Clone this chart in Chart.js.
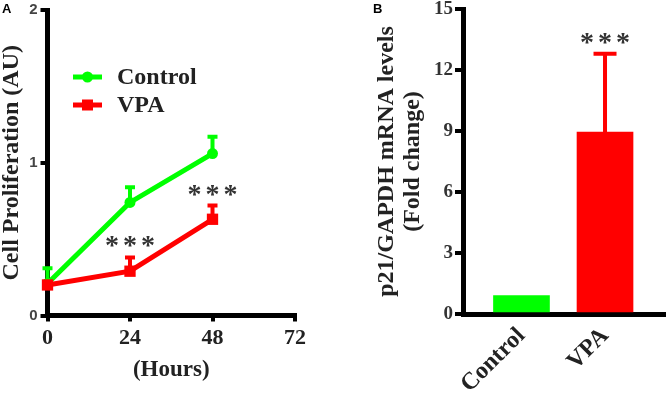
<!DOCTYPE html>
<html><head><meta charset="utf-8">
<script src="https://cdn.jsdelivr.net/npm/chart.js@4.4.1/dist/chart.umd.min.js"></script>
<style>
html,body{margin:0;padding:0;background:#fff;width:666px;height:400px;overflow:hidden}
#ca{position:absolute;left:0;top:0}
#cb{position:absolute;left:340px;top:0}
</style></head><body>
<canvas id="ca" width="340" height="400"></canvas>
<canvas id="cb" width="326" height="400"></canvas>
<script>
// ---- data ----
const hours = [0, 24, 48];
const hourTicks = [0, 24, 48, 72];
const seriesNames = ['Control', 'VPA'];
const controlMean = [0.21, 0.74, 1.06];
const controlErr = [0.10, 0.10, 0.11];
const vpaMean = [0.20, 0.29, 0.63];
const vpaErr = [0.02, 0.09, 0.09];
const sigA = ['', '***', '***'];
const propTicks = [0, 1, 2];

const groups = ['Control', 'VPA'];
const foldMean = [0.9, 8.95];
const foldErr = [0, 3.85];
const sigB = ['', '***'];
const foldTicks = [0, 3, 6, 9, 12, 15];

// ---- styles ----
const GREEN = '#00ff00', RED = '#ff0000';
const SERIF = '"Liberation Serif","Times New Roman",serif';
const SANS = '"Liberation Sans",Arial,sans-serif';
const TXT = '#222';

function errPlugin(capHalf, lw, pos) {
  return {
    id: 'err' + pos,
    [pos]: (chart) => {
      const ctx = chart.ctx, xs = chart.scales.x, ys = chart.scales.y;
      chart.data.datasets.forEach((ds) => {
        ds.data.forEach((p, i) => {
          const e = ds.err[i];
          if (!e) return;
          const x = xs.getPixelForValue(p.x);
          const y0 = ys.getPixelForValue(p.y), y1 = ys.getPixelForValue(p.y + e);
          const c = Array.isArray(ds.backgroundColor) ? ds.backgroundColor[i] : ds.borderColor;
          ctx.save();
          ctx.strokeStyle = c; ctx.lineWidth = lw; ctx.lineCap = 'butt';
          ctx.beginPath(); ctx.moveTo(x, y0); ctx.lineTo(x, y1 - lw / 2);
          ctx.moveTo(x - capHalf, y1); ctx.lineTo(x + capHalf, y1); ctx.stroke();
          ctx.restore();
        });
      });
    }
  };
}

const sigPlugin = {
  id: 'sig',
  afterDatasetsDraw(chart) {
    const ctx = chart.ctx, xs = chart.scales.x, ys = chart.scales.y;
    chart.data.datasets.forEach((ds) => {
      if (!ds.sig) return;
      ds.data.forEach((p, i) => {
        const s = ds.sig[i];
        if (!s) return;
        const x = xs.getPixelForValue(p.x);
        const y = ys.getPixelForValue(p.y + (ds.err[i] || 0)) - 16;
        ctx.save();
        ctx.fillStyle = '#333';
        ctx.font = 'bold 28px ' + SERIF;
        ctx.textAlign = 'center'; ctx.textBaseline = 'alphabetic';
        const n = s.length;
        for (let k = 0; k < n; k++) {
          ctx.fillText('*', x + (k - (n - 1) / 2) * 18, y + 13);
        }
        ctx.restore();
      });
    });
  }
};

function letterPlugin(letter, x, y) {
  return {
    id: 'letter',
    afterDraw(chart) {
      const ctx = chart.ctx;
      ctx.save();
      ctx.fillStyle = '#000';
      ctx.font = 'bold 13px ' + SANS;
      ctx.textAlign = 'left'; ctx.textBaseline = 'alphabetic';
      ctx.fillText(letter, x, y);
      ctx.restore();
    }
  };
}

const legendPlugin = {
  id: 'customLegend',
  afterDraw(chart) {
    const ctx = chart.ctx;
    chart.data.datasets.forEach((ds, i) => {
      const y = 77 + i * 28;
      ctx.save();
      ctx.strokeStyle = ds.borderColor; ctx.lineWidth = 5;
      ctx.beginPath(); ctx.moveTo(73, y); ctx.lineTo(102, y); ctx.stroke();
      ctx.fillStyle = ds.borderColor;
      if (ds.pointStyle === 'rect') { ctx.fillRect(82, y - 5.5, 11, 11); }
      else { ctx.beginPath(); ctx.arc(87.5, y, 5.5, 0, Math.PI * 2); ctx.fill(); }
      ctx.fillStyle = TXT;
      ctx.font = 'bold 24px ' + SERIF;
      ctx.textAlign = 'left'; ctx.textBaseline = 'middle';
      ctx.fillText(ds.label, 117, y + 1);
      ctx.restore();
    });
  }
};

// ---- Panel A ----
new Chart(document.getElementById('ca'), {
  type: 'line',
  data: {
    datasets: [
      { label: seriesNames[0], data: hours.map((h, i) => ({ x: h, y: controlMean[i] })), err: controlErr,
        borderColor: GREEN, backgroundColor: GREEN, borderWidth: 5, pointStyle: 'circle', pointRadius: 5.5,
        pointBorderWidth: 0, clip: false, order: 2 },
      { label: seriesNames[1], data: hours.map((h, i) => ({ x: h, y: vpaMean[i] })), err: vpaErr, sig: sigA,
        borderColor: RED, backgroundColor: RED, borderWidth: 5, pointStyle: 'rect', pointRadius: 8,
        pointBorderWidth: 0, clip: false, order: 1 }
    ]
  },
  options: {
    responsive: false, animation: false, devicePixelRatio: 1,
    layout: { padding: { top: 10, right: 45, bottom: 16, left: 0 } },
    plugins: { legend: { display: false }, tooltip: { enabled: false } },
    scales: {
      x: {
        type: 'linear', min: hourTicks[0], max: hourTicks[hourTicks.length - 1],
        afterBuildTicks: (s) => { s.ticks = hourTicks.map(v => ({ value: v })); },
        afterFit: (s) => { s.height = 68.5; s.paddingLeft = 0; s.paddingRight = 0; },
        grid: { display: true, drawOnChartArea: false, drawTicks: true, tickLength: 6, color: '#000', lineWidth: 4 },
        border: { display: true, color: '#000', width: 5 },
        ticks: { font: { family: SERIF, weight: 'bold', size: 22 }, color: TXT, padding: 4, maxRotation: 0, autoSkip: false },
        title: { display: true, text: '(Hours)', font: { family: SERIF, weight: 'bold', size: 23 }, color: TXT, padding: 0 }
      },
      y: {
        min: propTicks[0], max: propTicks[propTicks.length - 1],
        afterBuildTicks: (s) => { s.ticks = propTicks.map(v => ({ value: v })); },
        afterFit: (s) => { s.width = 47.5; s.paddingTop = 0; s.paddingBottom = 0; },
        grid: { display: true, drawOnChartArea: false, drawTicks: true, tickLength: 7, color: '#000', lineWidth: 4 },
        border: { display: true, color: '#000', width: 5 },
        ticks: { font: { family: SANS, weight: 'bold', size: 15 }, color: '#444', padding: 3 },
        title: { display: true, text: 'Cell Proliferation (AU)', font: { family: SERIF, weight: 'bold', size: 24, lineHeight: 1 }, color: TXT, padding: 0 }
      }
    }
  },
  plugins: [errPlugin(5, 4, 'beforeDatasetsDraw'), sigPlugin, legendPlugin, letterPlugin('A', 2, 13)]
});

// ---- Panel B ----
new Chart(document.getElementById('cb'), {
  type: 'bar',
  data: {
    datasets: [
      { label: 'p21', data: groups.map((g, i) => ({ x: i, y: foldMean[i] })), err: foldErr, sig: sigB,
        backgroundColor: [GREEN, RED], borderWidth: 0, barThickness: 56, clip: false }
    ]
  },
  options: {
    responsive: false, animation: false, devicePixelRatio: 1,
    layout: { padding: { top: 9, right: 0, bottom: 0, left: 0 } },
    plugins: { legend: { display: false }, tooltip: { enabled: false } },
    scales: {
      x: {
        type: 'linear', min: -0.70, max: 1.73, offset: false,
        afterBuildTicks: (s) => { s.ticks = groups.map((g, i) => ({ value: i })); },
        afterFit: (s) => { s.height = 86; s.paddingLeft = 0; s.paddingRight = 0; },
        grid: { display: false, drawTicks: false },
        border: { display: true, color: '#000', width: 5 },
        ticks: { callback: (v) => groups[v], font: { family: SERIF, weight: 'bold', size: 24 }, color: TXT,
                 padding: 8, minRotation: 45, maxRotation: 45, autoSkip: false }
      },
      y: {
        min: foldTicks[0], max: foldTicks[foldTicks.length - 1],
        afterBuildTicks: (s) => { s.ticks = foldTicks.map(v => ({ value: v })); },
        afterFit: (s) => { s.width = 123; s.paddingTop = 0; s.paddingBottom = 0; },
        grid: { display: true, drawOnChartArea: false, drawTicks: true, tickLength: 8, color: '#000', lineWidth: 4 },
        border: { display: true, color: '#000', width: 5 },
        ticks: { font: { family: SERIF, weight: 'bold', size: 19 }, color: '#333', padding: 2 },
        title: { display: true, text: ['p21/GAPDH mRNA levels', '(Fold change)'],
                 font: { family: SERIF, weight: 'bold', size: 24, lineHeight: 26 / 24 }, color: TXT, padding: { top: 34, bottom: 0 } }
      }
    }
  },
  plugins: [errPlugin(11.5, 4, 'afterDatasetsDraw'), sigPlugin, letterPlugin('B', 33, 13)]
});
</script>
</body></html>
